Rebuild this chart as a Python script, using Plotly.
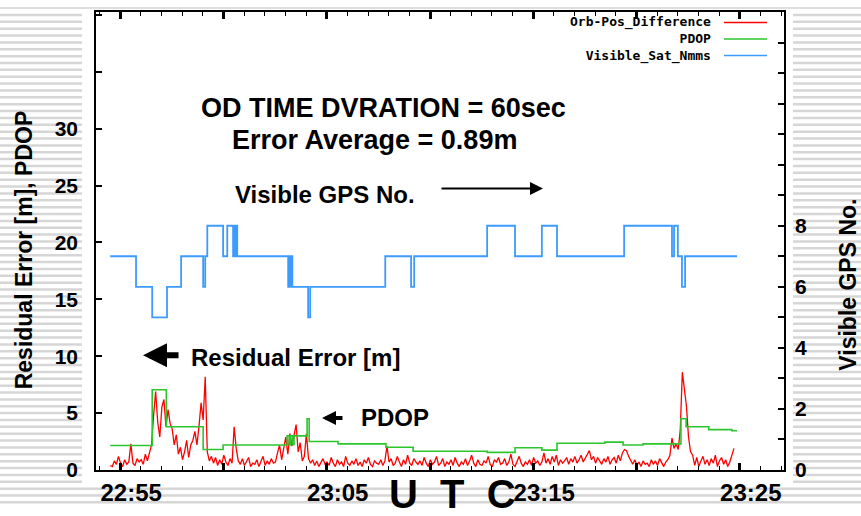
import pandas as pd
import plotly.graph_objects as go

DAY = "2000-01-01 "

# Orbit position difference (residual error, m), one sample every 6 s from 22:54:31
err_start = "22:54:31"
err_step_s = 6
err_values = [
    0.4, 0.3, 0.8, 0.5, 1.2, 0.6, 0.3, 0.9, 0.5, 0.7,
    2.3, 0.6, 0.4, 1.0, 0.7, 0.9, 0.5, 1.4, 0.8, 1.5,
    2.2, 4.8, 6.9, 4.2, 2.9, 5.5, 6.2, 3.8, 5.3, 4.1,
    3.6, 2.2, 3.1, 1.4, 2.0, 0.9, 1.6, 2.6, 1.1, 2.2,
    2.6, 3.4, 2.2, 3.9, 5.9, 4.4, 8.2, 1.6, 0.8, 1.2,
    0.6, 1.1, 0.4, 0.9, 0.5, 1.3, 0.7, 0.4, 1.0, 0.6,
    3.8, 1.9, 0.8, 0.5, 1.0, 0.4, 0.7, 1.1, 0.3, 0.6,
    0.5, 0.9, 0.3, 0.7, 1.2, 0.4, 0.8, 0.5, 1.0, 0.6,
    0.7, 1.5, 2.2, 0.9, 1.8, 2.9, 1.4, 3.2, 2.1, 3.0,
    4.0, 1.6, 2.4, 0.8, 1.2, 3.2, 1.0, 0.6, 0.9, 0.4,
    0.8, 0.3, 0.6, 1.0, 0.5, 0.7, 0.4, 1.1, 0.6, 0.3,
    0.9, 0.5, 0.7, 0.3, 1.2, 0.6, 0.4, 0.8, 0.5, 1.0,
    0.4, 0.7, 0.3, 0.9, 0.6, 1.1, 0.5, 0.3, 0.8, 0.6,
    0.5, 0.9, 0.4, 0.8, 2.1, 0.7, 1.0, 0.4, 0.6, 1.2,
    0.7, 0.3, 0.9, 0.5, 1.3, 0.6, 0.4, 1.0, 0.7, 0.5,
    0.8, 0.4, 1.1, 0.6, 0.3, 0.9, 0.5, 0.7, 1.2, 0.4,
    0.6, 1.0, 0.3, 0.7, 0.5, 0.9, 0.4, 1.1, 0.6, 0.3,
    0.7, 0.5, 1.0, 0.4, 0.8, 1.3, 0.6, 0.3, 0.9, 0.5,
    0.4, 0.8, 0.6, 1.2, 0.5, 0.3, 0.9, 0.7, 1.1, 0.5,
    0.6, 1.0, 0.4, 0.7, 1.4, 0.5, 0.3, 0.8, 1.2, 0.6,
    0.3, 0.7, 0.5, 0.9, 0.4, 1.1, 0.6, 0.8, 0.4, 0.7,
    1.5, 0.6, 1.0, 0.5, 1.2, 0.7, 1.3, 0.4, 0.9, 0.6,
    0.8, 1.1, 0.5, 1.0, 0.7, 1.2, 0.6, 0.9, 1.3, 0.7,
    1.0, 1.4, 1.7, 0.9, 1.2, 0.6, 1.1, 0.8, 0.5, 1.0,
    0.7, 1.2, 0.5, 0.9, 1.1, 0.6, 1.3, 0.8, 1.5, 1.8,
    1.7, 1.2, 0.8, 0.5, 0.9, 0.4, 0.7, 0.3, 0.8, 0.5,
    0.6, 0.3, 0.9, 0.5, 0.8, 0.4, 1.0, 0.6, 0.3, 0.7,
    0.9, 1.3, 2.8, 1.9, 2.3, 1.8, 3.5, 8.6, 7.2, 5.6,
    2.9, 1.6, 1.3, 0.4, 1.1, 0.3, 0.8, 1.2, 0.5, 0.9,
    0.4, 1.0, 0.6, 1.3, 0.3, 0.8, 1.1, 0.5, 0.9, 0.3,
    0.7, 1.3, 1.9,
]

# PDOP: time of each change, value held until the next change
pdop_times = [
    "22:54:31", "22:56:33", "22:57:14", "22:59:01", "22:59:59", "23:03:05",
    "23:03:11", "23:03:14", "23:03:20", "23:03:25", "23:04:03", "23:04:09",
    "23:05:33", "23:07:52", "23:09:11", "23:12:46", "23:14:07", "23:15:25",
    "23:16:09", "23:18:28", "23:19:21", "23:20:19", "23:22:09", "23:22:24",
    "23:23:30", "23:24:37",
]
pdop_values = [
    2.15, 7.05, 3.8, 1.8, 2.2, 3.0,
    2.2, 3.0, 2.25, 3.0, 4.5, 2.5,
    2.3, 2.0, 1.65, 1.55, 1.95, 1.75,
    2.35, 2.45, 2.2, 2.3, 4.5, 3.8,
    3.55, 3.45,
]

# Number of visible GPS satellites: time of each change and new count
sat_times = [
    "22:54:31", "22:55:46", "22:56:33", "22:57:16", "22:57:57", "22:59:01",
    "22:59:07", "22:59:13", "22:59:59", "23:00:11", "23:00:28", "23:00:31",
    "23:00:34", "23:00:37", "23:00:40", "23:03:08", "23:03:11", "23:03:14",
    "23:03:17", "23:03:20", "23:04:06", "23:04:12", "23:07:50", "23:09:05",
    "23:09:14", "23:12:46", "23:14:07", "23:15:25", "23:16:09", "23:19:24",
    "23:21:43", "23:21:49", "23:22:00", "23:22:12", "23:22:21",
]
sat_values = [
    7, 6, 5, 6, 7, 6,
    7, 8, 7, 8, 7, 8,
    7, 8, 7, 6, 7, 6,
    7, 6, 5, 6, 7, 6,
    7, 8, 7, 8, 7, 8,
    7, 8, 7, 6, 7,
]
series_end = "23:24:52"

x_range = ["22:53:49.7", "23:27:08.4"]
x_ticks = ["22:55", "23:00", "23:05", "23:10", "23:15", "23:20", "23:25"]
x_tick_text = ["22:55", "", "23:05", "", "23:15", "", "23:25"]
left_ticks = [0, 5, 10, 15, 20, 25, 30, 35, 40]
left_tick_text = ["0", "5", "10", "15", "20", "25", "30", "", ""]
right_ticks = list(range(16))
right_tick_text = ["0", "", "2", "", "4", "", "6", "", "8"] + [""] * 7

series_names = ["Orb-Pos_Difference", "PDOP", "Visible_Sat_Nmms"]
series_colors = ["#ff0000", "#2cc52c", "#3d9bff"]


def ts(t):
    return pd.to_datetime(DAY + t)


def steps(times, values):
    x = [ts(t) for t in times] + [ts(series_end)]
    y = list(values) + [values[-1]]
    return x, y


err_x = pd.date_range(ts(err_start), periods=len(err_values), freq=f"{err_step_s}s")
pdop_x, pdop_y = steps(pdop_times, pdop_values)
sat_x, sat_y = steps(sat_times, sat_values)

fig = go.Figure()
fig.add_trace(go.Scatter(x=err_x, y=err_values, mode="lines", name=series_names[0],
                         line=dict(color=series_colors[0], width=1.3)))
fig.add_trace(go.Scatter(x=pdop_x, y=pdop_y, mode="lines", name=series_names[1],
                         line=dict(color=series_colors[1], width=1.6, shape="hv")))
fig.add_trace(go.Scatter(x=sat_x, y=sat_y, mode="lines", name=series_names[2], yaxis="y2",
                         line=dict(color=series_colors[2], width=1.8, shape="hv")))

# plot area in pixels: x 96..784, y 10..477
PL, PR, PT, PB = 96, 784, 10, 477
W, H = 861, 516


def px(x):
    return (x - PL) / (PR - PL)


def py(y):
    return (PB - y) / (PB - PT)


FONT = "Liberation Sans"
bold = dict(family=FONT, color="black", weight="bold")

fig.update_layout(
    width=W, height=H,
    margin=dict(l=PL, r=W - PR, t=PT, b=H - PB),
    paper_bgcolor="rgba(0,0,0,0)", plot_bgcolor="rgba(0,0,0,0)",
    showlegend=False,
    xaxis=dict(
        type="date", range=[ts(x_range[0]), ts(x_range[1])],
        showline=True, linecolor="black", linewidth=1.5, mirror="ticks",
        ticks="inside", ticklen=7, tickwidth=3, tickcolor="black",
        tickmode="array", tickvals=[ts(t) for t in x_ticks], ticktext=x_tick_text,
        tickfont=dict(size=24, **bold), ticklabelshift=11,
        showgrid=False, zeroline=False,
        minor=dict(ticks="inside", ticklen=4, tickwidth=1, tickcolor="black",
                   dtick=60000, tick0=ts("22:55"), showgrid=False),
    ),
    yaxis=dict(
        range=[0, 40.26], showline=True, linecolor="black", linewidth=1.5, mirror=True,
        ticks="inside", ticklen=6, tickwidth=1.5, tickcolor="black",
        tickmode="array", tickvals=left_ticks, ticktext=left_tick_text,
        tickfont=dict(size=21, **bold), ticklabelstandoff=12,
        showgrid=False, zeroline=False,
    ),
    yaxis2=dict(
        range=[0, 15.0], overlaying="y", side="right", showline=False,
        ticks="inside", ticklen=6, tickwidth=1.5, tickcolor="black",
        tickmode="array", tickvals=right_ticks, ticktext=right_tick_text,
        tickfont=dict(size=21, **bold), ticklabelstandoff=10,
        showgrid=False, zeroline=False,
    ),
)

# striped slide background around the chart
STRIPE = "#d6d6d6"


def stripe_path(x0, x1, y0, y1, period=7):
    parts = []
    y = y0
    while y <= y1:
        parts.append(f"M{px(x0):.5f},{py(y):.5f} L{px(x1):.5f},{py(y):.5f}")
        y += period
    return " ".join(parts)


shapes = [
    dict(type="path", path=stripe_path(0, 82, 13, 516), xref="paper", yref="paper",
         line=dict(color=STRIPE, width=2.5), layer="below"),
    dict(type="path", path=stripe_path(793, W, 13, 516), xref="paper", yref="paper",
         line=dict(color=STRIPE, width=2.5), layer="below"),
    dict(type="path", path=stripe_path(82, 793, 496, 516), xref="paper", yref="paper",
         line=dict(color=STRIPE, width=2.5), layer="below"),
    dict(type="line", x0=px(0), x1=px(W), y0=py(6), y1=py(6), xref="paper", yref="paper",
         line=dict(color="#dedede", width=2), layer="below"),
]

# key in the top right corner: right-aligned names with line samples
KEY_SIZE = 13
key_center = 37.5
row_gap = 1.3 * KEY_SIZE
annotations = [dict(
    x=px(713), y=py(key_center), xref="paper", yref="paper",
    text="<br>".join(series_names), showarrow=False, align="right",
    xanchor="right", yanchor="middle",
    font=dict(family="DejaVu Sans Mono", size=KEY_SIZE, color="black", weight="bold"),
)]
for i, color in enumerate(series_colors):
    yrow = key_center + (i - 1) * row_gap
    shapes.append(dict(type="line", x0=px(724), x1=px(767), y0=py(yrow), y1=py(yrow),
                       xref="paper", yref="paper", line=dict(color=color, width=1.5)))


def label(text, x, y, size, **kw):
    d = dict(x=px(x), y=py(y), xref="paper", yref="paper", text=text, showarrow=False,
             xanchor="center", yanchor="middle", font=dict(size=size, **bold))
    d.update(kw)
    return d


def arrow(x_head, y, tail_dx, width, size):
    return dict(x=px(x_head), y=py(y), xref="paper", yref="paper", text="",
                showarrow=True, ax=tail_dx, ay=0, arrowhead=2, arrowwidth=width,
                arrowsize=size, arrowcolor="black", standoff=0, startstandoff=0)


annotations += [
    label("OD TIME DVRATION = 60sec", 383, 108, 27),
    label("Error Average = 0.89m", 374, 141, 27),
    label("Visible GPS No.", 325, 196, 24),
    arrow(543, 190, -103, 2, 1.3),
    label("Residual Error [m]", 295, 362, 24),
    arrow(143, 360, 37, 6, 0.8),
    label("PDOP", 395, 423, 24),
    arrow(322, 424, 22, 4, 0.7),
    label("Residual Error [m], PDOP", 24, 253, 23, textangle=-90),
    label("Visible GPS No.", 848, 288, 23, textangle=-90),
    label("U\u00a0\u00a0T\u00a0\u00a0C", 452, 501, 40),
]

fig.update_layout(shapes=shapes, annotations=annotations)
fig.write_html("out.html")
